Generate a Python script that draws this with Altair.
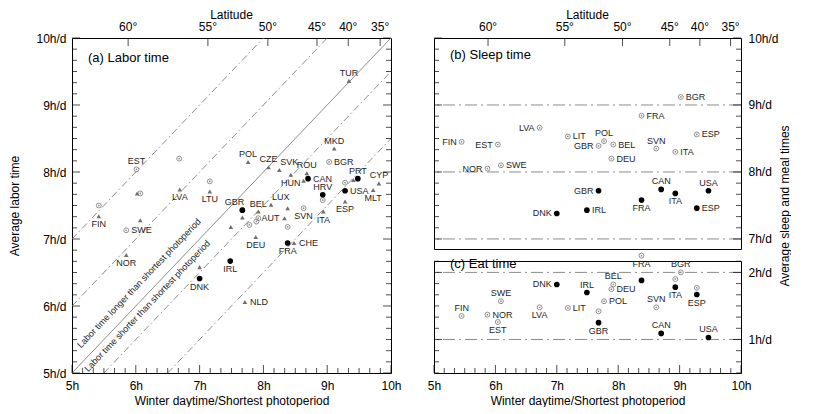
import altair as alt
import pandas as pd

FONT = "Liberation Sans"
LINE = "#8c8c8c"
TRI = "#6f6f6f"
RING = "#8f8f8f"
INK = "#1e1e1e"
U = alt.Undefined

# ---------------- axis values ----------------
hours = [5, 6, 7, 8, 9, 10]
lat_pos = [5.88, 7.13, 8.07, 8.84, 9.33, 9.83]
lat_lab = ["60°", "55°", "50°", "45°", "40°", "35°"]

# ---------------- panel (a) labor time ----------------
a_tri_cty = ["TUR", "MKD", "POL", "CZE", "SVK", "HUN", "ROU", "", "", "CYP", "MLT", "ESP", "ITA", "", "AUT",
             "LUX", "BEL", "", "", "DEU", "CHE", "LTU", "LVA", "", "FIN", "", "NOR", "", "NLD"]
a_tri_x = [9.34, 9.11, 7.76, 8.08, 8.25, 8.43, 8.68, 8.63, 9.41, 9.81, 9.72, 9.28, 8.94, 8.38, 8.33,
           8.12, 7.92, 7.67, 7.49, 7.88, 8.48, 7.16, 6.69, 6.02, 5.42, 6.07, 5.85, 7.00, 7.71]
a_tri_y = [9.36, 8.35, 8.15, 8.07, 8.03, 7.96, 7.98, 7.87, 7.88, 7.83, 7.73, 7.56, 7.41, 7.46, 7.31,
           7.51, 7.41, 7.32, 7.18, 7.03, 6.94, 7.71, 7.74, 7.68, 7.34, 7.28, 6.76, 6.58, 6.06]
a_tri_pos = ["a", "a", "a", "a", "ar", "b", "a", "", "", "a", "b", "b", "b", "", "l",
             "ar", "a", "", "", "b", "r", "b", "b", "", "b", "", "b", "", "r"]

a_ring_cty = ["EST", "", "", "", "", "SWE", "GBR", "", "", "", "SVN", "", "", "", "BGR"]
a_ring_x = [6.01, 6.68, 6.07, 7.16, 5.42, 5.85, 7.67, 7.92, 7.89, 7.78, 8.63, 8.38, 8.93, 9.28, 9.03]
a_ring_y = [8.04, 8.20, 7.68, 7.86, 7.50, 7.13, 7.43, 7.31, 7.26, 7.21, 7.46, 7.18, 7.58, 7.84, 8.15]
a_ring_pos = ["a", "", "", "", "", "r", "al", "", "", "", "b", "", "", "", "r"]

a_dot_cty = ["CAN", "HRV", "PRT", "USA", "", "FRA", "IRL", "DNK"]
a_dot_x = [8.70, 8.93, 9.48, 9.28, 7.67, 8.38, 7.48, 7.00]
a_dot_y = [7.90, 7.66, 7.90, 7.72, 7.43, 6.94, 6.67, 6.41]
a_dot_pos = ["r", "a", "a", "r", "", "b", "b", "b"]

# reference lines: labor time = shortest photoperiod + offset
diag_offset = [2, 1, 0, -0.5, -1.5]
diag_style = ["dash", "dash", "solid", "dash", "dash"]
note_text = ["Labor time longer than shortest photoperiod", "Labor time shorter than shortest photoperiod"]
note_x = [6.05, 6.18]
note_y = [6.34, 6.00]

# ---------------- panel (b) sleep time ----------------
b_ring_cty = ["BGR", "FRA", "LVA", "LIT", "POL", "ESP", "FIN", "EST", "GBR", "BEL", "SVN", "ITA", "DEU", "NOR", "SWE"]
b_ring_x = [9.02, 8.38, 6.72, 7.18, 7.77, 9.28, 5.45, 6.04, 7.68, 7.92, 8.62, 8.93, 7.89, 5.87, 6.09]
b_ring_y = [9.12, 8.84, 8.66, 8.53, 8.46, 8.56, 8.45, 8.41, 8.39, 8.41, 8.35, 8.30, 8.20, 8.05, 8.10]
b_ring_pos = ["r", "r", "l", "r", "a", "r", "l", "l", "l", "r", "a", "r", "r", "l", "r"]

b_dot_cty = ["GBR", "CAN", "USA", "ITA", "FRA", "ESP", "IRL", "DNK"]
b_dot_x = [7.68, 8.70, 9.47, 8.93, 8.38, 9.28, 7.49, 7.00]
b_dot_y = [7.72, 7.74, 7.72, 7.68, 7.58, 7.46, 7.43, 7.38]
b_dot_pos = ["l", "a", "a", "b", "b", "r", "r", "l"]
b_ref = [7, 8, 9]

# ---------------- panel (c) eat time ----------------
c_ring_cty = ["FRA", "BGR", "", "", "BEL", "DEU", "POL", "SVN", "LIT", "", "LVA", "SWE", "NOR", "EST", "FIN"]
c_ring_x = [8.38, 9.02, 8.93, 9.28, 7.92, 7.89, 7.77, 8.62, 7.18, 7.68, 6.72, 6.09, 5.87, 6.04, 5.45]
c_ring_y = [2.25, 2.00, 1.90, 1.77, 1.82, 1.75, 1.57, 1.48, 1.47, 1.42, 1.48, 1.57, 1.37, 1.26, 1.35]
c_ring_pos = ["b", "a", "", "", "a", "r", "r", "a", "r", "", "b", "a", "r", "b", "a"]

c_dot_cty = ["DNK", "IRL", "", "ITA", "ESP", "GBR", "CAN", "USA"]
c_dot_x = [7.00, 7.49, 8.38, 8.93, 9.28, 7.68, 8.70, 9.47]
c_dot_y = [1.82, 1.70, 1.88, 1.78, 1.67, 1.25, 1.09, 1.03]
c_dot_pos = ["l", "a", "", "b", "b", "b", "a", "a"]
c_ref = [1, 2]

# ---------------- helpers ----------------
W_A, H_A = 319, 335
W_B, H_B = 307, 211
W_C, H_C = 307, 112

XS = alt.Scale(domain=[5, 10], nice=False, zero=False)


def ysc(d):
    return alt.Scale(domain=d, nice=False, zero=False)


YA = ysc([5, 10])
YB = ysc([6.85, 10])
YC = ysc([0.5, 2.17])

OFFS = {"a": (0, -8, "center"), "b": (0, 8, "center"), "l": (-5, 0, "right"),
        "r": (5, 0, "left"), "ar": (1, -8, "left"), "al": (2, -8, "right")}

minor_x = [5 + i / 6 for i in range(31) if i % 6]
minor_a = [5 + i / 6 for i in range(31) if i % 6]
minor_b = [7 + i / 6 for i in range(19) if i % 6]
minor_c = [0.5 + i / 6 for i in range(11) if (i - 3) % 6]

MAJ, MIN = 8, 5


class P:
    """encoding helpers for one panel: xa / ya are U (axis shown by carrier layer) or None"""

    def __init__(self, ys, xa, ya):
        self.ys, self.xa, self.ya = ys, xa, ya

    def X(self, f):
        return alt.X(f, scale=XS, axis=self.xa)

    def Y(self, f):
        return alt.Y(f, scale=self.ys, axis=self.ya)


def frame(kinds, cty, xs, ys, pos):
    return pd.DataFrame({"kind": kinds, "cty": cty, "x": xs, "y": ys, "pos": pos})


def point_layers(df, p):
    enc = dict(x=p.X("x:Q"), y=p.Y("y:Q"))
    base = alt.Chart(df)
    ring = base.transform_filter("datum.kind == 'ring'").mark_point(
        shape="circle", filled=False, color=RING, strokeWidth=1, size=24, opacity=1).encode(**enc)
    ringdot = base.transform_filter("datum.kind == 'ring'").mark_circle(
        size=3, color=RING, opacity=1).encode(**enc)
    tri = base.transform_filter("datum.kind == 'tri'").mark_point(
        shape="triangle-up", filled=True, color=TRI, size=22, opacity=1).encode(**enc)
    dot = base.transform_filter("datum.kind == 'dot'").mark_circle(
        size=32, color="black", opacity=1).encode(**enc)
    layers = [ring, ringdot, tri, dot]
    for k, (dx, dy, al) in OFFS.items():
        layers.append(base.transform_filter(f"datum.pos == '{k}'").mark_text(
            dx=dx, dy=dy, align=al, baseline="middle", fontSize=9, font=FONT, color=INK
        ).encode(text="cty:N", **enc))
    return layers


def axis_layer(xvals, yvals, ys, xaxis, yaxis):
    df = pd.DataFrame({"x": xvals, "y": yvals})
    return alt.Chart(df).mark_point(opacity=0, size=1).encode(
        x=alt.X("x:Q", scale=XS, axis=xaxis), y=alt.Y("y:Q", scale=ys, axis=yaxis))


def xtick(p, vals, yv, L):
    return alt.Chart(pd.DataFrame({"x": vals})).mark_tick(
        orient="vertical", size=L, thickness=1, color="black").encode(
        x=p.X("x:Q"), y=alt.value(yv))


def ytick(p, vals, xv, L):
    return alt.Chart(pd.DataFrame({"y": vals})).mark_tick(
        orient="horizontal", size=L, thickness=1, color="black").encode(
        y=p.Y("y:Q"), x=alt.value(xv))


def panel_title(text, y):
    return alt.Chart(pd.DataFrame({"t": [text]})).mark_text(
        align="left", baseline="middle", fontSize=13, font=FONT, color="black").encode(
        text="t:N", x=alt.value(16), y=alt.value(y))


def hline(p, vals):
    return alt.Chart(pd.DataFrame({"y": vals})).mark_rule(
        color=LINE, strokeWidth=1, strokeDash=[12, 4, 2, 4]).encode(y=p.Y("y:Q"))


def latitude_layers(p, W):
    labels = alt.Chart(pd.DataFrame({"x": lat_pos, "t": lat_lab})).mark_text(
        align="center", baseline="middle", fontSize=12, font=FONT, color="black").encode(
        x=p.X("x:Q"), y=alt.value(-11), text="t:N")
    title = alt.Chart(pd.DataFrame({"t": ["Latitude"]})).mark_text(
        align="center", baseline="middle", fontSize=12, font=FONT, color="black").encode(
        x=alt.value(W / 2), y=alt.value(-23), text="t:N")
    return [labels, title, xtick(p, lat_pos, MAJ / 2, MAJ)]


bottom_axis = alt.Axis(orient="bottom", values=hours, labelExpr="datum.value + 'h'", labelPadding=7,
                       labelFlush=False, title="Winter daytime/Shortest photoperiod", titlePadding=4)
left_axis = alt.Axis(orient="left", values=hours, labelExpr="datum.value + 'h/d'", labelPadding=6,
                     labelFlush=False, title="Average labor time", titlePadding=14)
right_b = alt.Axis(orient="right", values=[7, 8, 9, 10], labelExpr="datum.value + 'h/d'", labelPadding=7,
                   labelFlush=False, title="Average sleep and meal times", titleAngle=270,
                   titleY=167.5, titlePadding=13)
right_c = alt.Axis(orient="right", values=[1, 2], labelExpr="datum.value + 'h/d'", labelPadding=7,
                   labelFlush=False, title=None)

# ---------------- panel (a) ----------------
pa = P(YA, U, U)
df_a = pd.concat([
    frame("ring", a_ring_cty, a_ring_x, a_ring_y, a_ring_pos),
    frame("tri", a_tri_cty, a_tri_x, a_tri_y, a_tri_pos),
    frame("dot", a_dot_cty, a_dot_x, a_dot_y, a_dot_pos),
], ignore_index=True)

diag_rows = []
for off, st in zip(diag_offset, diag_style):
    x1 = max(5, 5 - off)
    x2 = min(10, 10 - off)
    diag_rows.append({"x": x1, "y": x1 + off, "x2": x2, "y2": x2 + off, "style": st})
df_diag = pd.DataFrame(diag_rows)

diag_enc = dict(x=pa.X("x:Q"), y=pa.Y("y:Q"), x2="x2:Q", y2="y2:Q")
diag_solid = alt.Chart(df_diag).transform_filter("datum.style == 'solid'").mark_rule(
    color=LINE, strokeWidth=1).encode(**diag_enc)
diag_dash = alt.Chart(df_diag).transform_filter("datum.style == 'dash'").mark_rule(
    color=LINE, strokeWidth=1, strokeDash=[7, 3, 1.5, 3]).encode(**diag_enc)
notes = alt.Chart(pd.DataFrame({"t": note_text, "x": note_x, "y": note_y})).mark_text(
    angle=313.6, fontSize=9, font=FONT, color=INK, align="center", baseline="middle").encode(
    text="t:N", x=pa.X("x:Q"), y=pa.Y("y:Q"))

panel_a = alt.layer(
    axis_layer([5, 10], [5, 10], YA, bottom_axis, left_axis),
    diag_solid, diag_dash, notes,
    *point_layers(df_a, pa),
    panel_title("(a) Labor time", 20),
    *latitude_layers(pa, W_A),
    xtick(pa, hours, H_A - MAJ / 2, MAJ),
    xtick(pa, minor_x, H_A - MIN / 2, MIN),
    ytick(pa, hours, MAJ / 2, MAJ),
    ytick(pa, minor_a, MIN / 2, MIN),
    ytick(pa, hours, W_A - MAJ / 2, MAJ),
    ytick(pa, minor_a, W_A - MIN / 2, MIN),
).properties(width=W_A, height=H_A)

# ---------------- panel (b) ----------------
pb = P(YB, None, U)
df_b = pd.concat([
    frame("ring", b_ring_cty, b_ring_x, b_ring_y, b_ring_pos),
    frame("dot", b_dot_cty, b_dot_x, b_dot_y, b_dot_pos),
], ignore_index=True)

panel_b = alt.layer(
    axis_layer([5, 10], [7, 10], YB, None, right_b),
    hline(pb, b_ref),
    *point_layers(df_b, pb),
    panel_title("(b) Sleep time", 17),
    *latitude_layers(pb, W_B),
    ytick(pb, [7, 8, 9, 10], MAJ / 2, MAJ),
    ytick(pb, minor_b, MIN / 2, MIN),
    ytick(pb, [7, 8, 9, 10], W_B - MAJ / 2, MAJ),
    ytick(pb, minor_b, W_B - MIN / 2, MIN),
).properties(width=W_B, height=H_B)

# ---------------- panel (c) ----------------
pc = P(YC, U, U)
df_c = pd.concat([
    frame("ring", c_ring_cty, c_ring_x, c_ring_y, c_ring_pos),
    frame("dot", c_dot_cty, c_dot_x, c_dot_y, c_dot_pos),
], ignore_index=True)

panel_c = alt.layer(
    axis_layer([5, 10], [1, 2], YC, bottom_axis, right_c),
    hline(pc, c_ref),
    *point_layers(df_c, pc),
    panel_title("(c) Eat time", 3),
    xtick(pc, hours, H_C - MAJ / 2, MAJ),
    xtick(pc, minor_x, H_C - MIN / 2, MIN),
    ytick(pc, [1, 2], MAJ / 2, MAJ),
    ytick(pc, minor_c, MIN / 2, MIN),
    ytick(pc, [1, 2], W_C - MAJ / 2, MAJ),
    ytick(pc, minor_c, W_C - MIN / 2, MIN),
).properties(width=W_C, height=H_C)

right_col = alt.vconcat(panel_b, panel_c, spacing=12, bounds="flush")

chart = (
    alt.hconcat(panel_a, right_col, spacing=24)
    .properties(padding={"left": 0, "right": 0, "top": 0, "bottom": 0})
    .configure(font=FONT)
    .configure_view(stroke="black", strokeWidth=1)
    .configure_axis(ticks=False, domain=False, grid=False, labelOverlap=False,
                    labelFont=FONT, titleFont=FONT, labelFontSize=12, titleFontSize=12,
                    titleFontWeight="normal", labelColor="black", titleColor="black")
)

chart.save("out.html", embed_options={"renderer": "svg", "actions": False})
